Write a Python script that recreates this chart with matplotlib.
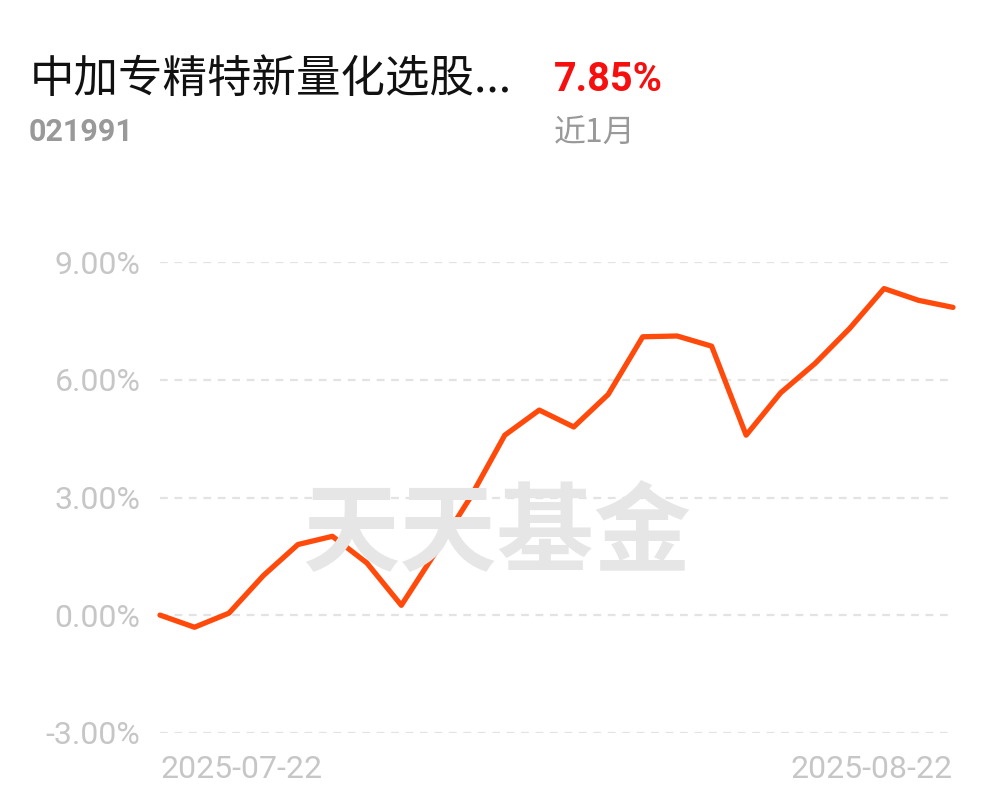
import matplotlib
matplotlib.use("Agg")
import matplotlib.pyplot as plt

dates = ["2025-07-22", "2025-07-23", "2025-07-24", "2025-07-25", "2025-07-28", "2025-07-29",
         "2025-07-30", "2025-07-31", "2025-08-01", "2025-08-04", "2025-08-05", "2025-08-06",
         "2025-08-07", "2025-08-08", "2025-08-11", "2025-08-12", "2025-08-13", "2025-08-14",
         "2025-08-15", "2025-08-18", "2025-08-19", "2025-08-20", "2025-08-21", "2025-08-22"]
returns = [0.00, -0.31, 0.05, 1.01, 1.80, 2.01, 1.33, 0.25, 1.61, 3.00, 4.59, 5.23,
           4.80, 5.63, 7.10, 7.12, 6.86, 4.59, 5.67, 6.42, 7.31, 8.33, 8.03, 7.85]
yticks = [-3, 0, 3, 6, 9]
fund_name = "中加专精特新量化选股..."
fund_code = "021991"
period_return = "7.85%"
period_label = "近1月"
watermark = "天天基金"

plt.rcParams['font.family'] = ['Roboto', 'Noto Sans CJK SC', 'DejaVu Sans']

W, H = 997, 802
fig = plt.figure(figsize=(W / 100, H / 100), dpi=100)
fig.patch.set_facecolor("white")

left, right = 160, 953
top, bottom = 262.3, 732.7
ax = fig.add_axes([left / W, (H - bottom) / H, (right - left) / W, (bottom - top) / H])
ax.set_facecolor("none")

x = list(range(len(dates)))
ax.set_xlim(0, len(dates) - 1)
ax.set_ylim(-3, 9)

# watermark
fig.text(497 / W, 1 - 536 / H, watermark, fontsize=70, fontweight="bold",
         color="#e6e6e6", ha="center", va="center",
         family=["Noto Sans CJK SC"], zorder=0)

for v in yticks:
    ax.axhline(v, color="#e3e3e3", lw=1.6, ls=(0, (3.5, 3.0)), zorder=1)

ax.plot(x, returns, color="#ff4a0c", lw=3.8, solid_joinstyle="round",
        solid_capstyle="round", clip_on=False, zorder=3)

for s in ax.spines.values():
    s.set_visible(False)

ax.set_yticks(yticks)
ax.set_yticklabels([f"{v:.2f}%" for v in yticks])
ax.tick_params(axis="y", length=0, pad=14, labelsize=23, labelcolor="#c6c6c6")

ax.set_xticks([0, len(dates) - 1])
ax.set_xticklabels([dates[0], dates[-1]])
ax.tick_params(axis="x", length=0, pad=16, labelsize=23, labelcolor="#c6c6c6")
xl = ax.get_xticklabels()
xl[0].set_ha("left")
xl[1].set_ha("right")

# header texts
fig.text(30 / W, 1 - 79 / H, fund_name, fontsize=32, color="#111111",
         ha="left", va="center", family=["Noto Sans CJK SC"])
fig.text(554 / W, 1 - 80 / H, period_return, fontsize=28.5, color="#f50f0f",
         fontweight="bold", ha="left", va="center")
fig.text(29 / W, 1 - 132 / H, fund_code, fontsize=22, color="#999999",
         fontweight="bold", ha="left", va="center")
fig.text(554 / W, 1 - 133 / H, period_label, fontsize=23, color="#999999",
         ha="left", va="center", family=["Noto Sans CJK SC"])

fig.savefig("out.png", dpi=100, facecolor="white")
